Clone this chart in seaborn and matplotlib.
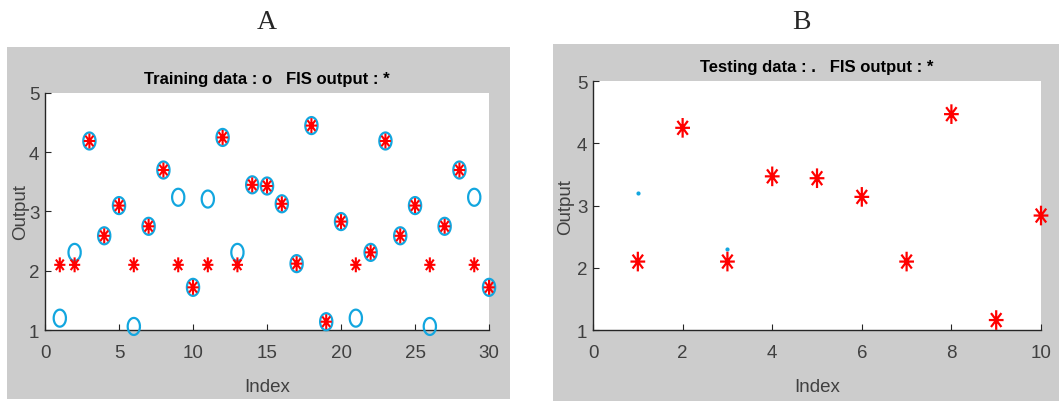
import numpy as np
import pandas as pd
import matplotlib
matplotlib.use("Agg")
import matplotlib.pyplot as plt
import seaborn as sns
from matplotlib.path import Path
from matplotlib.patches import Rectangle

# training data (o) and FIS output (*) for 30 samples
train_idx = list(range(1, 31))
train_data = [1.20, 2.31, 4.19, 2.59, 3.10, 1.06, 2.75, 3.70, 3.24, 1.72,
              3.21, 4.25, 2.31, 3.45, 3.43, 3.13, 2.12, 4.45, 1.14, 2.83,
              1.20, 2.31, 4.19, 2.59, 3.10, 1.06, 2.75, 3.70, 3.24, 1.72]
train_fis = [2.10, 2.10, 4.19, 2.59, 3.10, 2.10, 2.75, 3.70, 2.10, 1.72,
             2.10, 4.25, 2.10, 3.45, 3.43, 3.13, 2.12, 4.45, 1.14, 2.83,
             2.10, 2.31, 4.19, 2.59, 3.10, 2.10, 2.75, 3.70, 2.10, 1.72]

# testing data (.) and FIS output (*) for 10 samples
test_idx = list(range(1, 11))
test_data = [3.21, 4.25, 2.31, 3.47, 3.44, 3.14, 2.10, 4.47, 1.16, 2.84]
test_fis = [2.10, 4.25, 2.10, 3.47, 3.44, 3.14, 2.10, 4.47, 1.16, 2.84]

train_df = pd.DataFrame({"Index": train_idx, "data": train_data, "fis": train_fis})
test_df = pd.DataFrame({"Index": test_idx, "data": test_data, "fis": test_fis})

CYAN = "#12a6df"
RED = "#ff0000"
GREY = "#cccccc"
AXC = "#262626"
TXT = "#404040"

# squeezed marker shapes (picture is narrowed horizontally)
t = np.linspace(0, 2 * np.pi, 60)
ellipse = Path(np.column_stack([0.72 * np.cos(t), np.sin(t)]))
verts, codes = [], []
for a in np.arange(0, 180, 45):
    r = np.deg2rad(a)
    verts += [(-0.75 * np.cos(r), -np.sin(r)), (0.75 * np.cos(r), np.sin(r))]
    codes += [Path.MOVETO, Path.LINETO]
star = Path(verts, codes)

sns.set_theme(style="white")
plt.rcParams["font.family"] = ["Liberation Sans", "DejaVu Sans"]

fig = plt.figure(figsize=(10.59, 4.02), dpi=100)
fig.patches.append(Rectangle((0.0066, 0.005), 0.475, 0.876, transform=fig.transFigure,
                             facecolor=GREY, edgecolor="none", zorder=-10))
fig.patches.append(Rectangle((0.522, 0.0), 0.478, 0.888, transform=fig.transFigure,
                             facecolor=GREY, edgecolor="none", zorder=-10))

ax1 = fig.add_axes([0.0425, 0.1766, 0.4193, 0.5896])
ax2 = fig.add_axes([0.560, 0.1766, 0.423, 0.619])

sns.scatterplot(data=train_df, x="Index", y="data", ax=ax1, marker=ellipse, s=150,
                facecolor="none", edgecolor=CYAN, linewidth=1.6, zorder=3, clip_on=False)
sns.scatterplot(data=train_df, x="Index", y="fis", ax=ax1, marker=star, s=115,
                facecolor="none", edgecolor=RED, linewidth=1.5, zorder=4, clip_on=False)

sns.scatterplot(data=test_df, x="Index", y="data", ax=ax2, marker="o", s=9,
                color=CYAN, linewidth=0, zorder=3, clip_on=False)
sns.scatterplot(data=test_df, x="Index", y="fis", ax=ax2, marker=star, s=200,
                facecolor="none", edgecolor=RED, linewidth=1.6, zorder=4, clip_on=False)

ax1.set_xlim(0, 30)
ax1.set_xticks([0, 5, 10, 15, 20, 25, 30])
ax2.set_xlim(0, 10)
ax2.set_xticks([0, 2, 4, 6, 8, 10])

for ax, title, ypad in [(ax1, "Training data : o   FIS output : *", 0),
                        (ax2, "Testing data : .   FIS output : *", 2)]:
    ax.set_ylim(1, 5)
    ax.set_yticks([1, 2, 3, 4, 5])
    ax.set_facecolor("white")
    for s in ["top", "right"]:
        ax.spines[s].set_visible(False)
    for s in ["left", "bottom"]:
        ax.spines[s].set_color(AXC)
        ax.spines[s].set_linewidth(1.0)
    ax.tick_params(axis="both", direction="in", length=4, width=0.8, color=AXC,
                   labelcolor=TXT, labelsize=13.5, bottom=True, left=True)
    ax.tick_params(axis="x", pad=10)
    ax.tick_params(axis="y", pad=4)
    ax.set_xlabel("Index", fontsize=13.5, color=TXT, labelpad=12)
    ax.set_ylabel("Output", fontsize=13.5, color=TXT, labelpad=ypad)
    ax.set_title(title, fontsize=12, fontweight="bold", color="black", pad=7)

fig.text(0.252, 0.945, "A", family="Liberation Serif", fontsize=20, ha="center", va="center")
fig.text(0.757, 0.945, "B", family="Liberation Serif", fontsize=20, ha="center", va="center")

fig.savefig("out.png", dpi=100, facecolor="white")
